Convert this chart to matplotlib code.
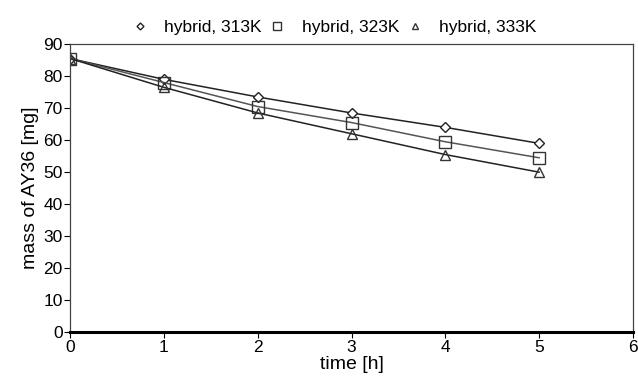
import matplotlib
matplotlib.use("Agg")
import matplotlib.pyplot as plt

plt.rcParams["font.family"] = ["Liberation Sans", "DejaVu Sans"]

# data
time_h = [0, 1, 2, 3, 4, 5]
mass_313 = [85.5, 79.0, 73.5, 68.5, 64.0, 59.0]
mass_323 = [85.5, 78.0, 70.5, 65.5, 59.5, 54.5]
mass_333 = [85.5, 76.5, 68.5, 62.0, 55.5, 50.0]
labels = ["hybrid, 313K", "hybrid, 323K", "hybrid, 333K"]

fig = plt.figure(figsize=(6.38, 3.84), dpi=100)
ax = fig.add_axes([0.11, 0.135, 0.882, 0.75])

ax.plot(time_h, mass_313, color="#222222", lw=1.1, marker="D", ms=5,
        mfc="white", mec="#222222", mew=1.0, label=labels[0])
ax.plot(time_h, mass_323, color="#555555", lw=1.1, marker="s", ms=8,
        mfc="none", mec="#333333", mew=1.0, label=labels[1])
ax.plot(time_h, mass_333, color="#222222", lw=1.1, marker="^", ms=7,
        mfc="none", mec="#333333", mew=1.0, label=labels[2])

ax.set_xlim(0, 6)
ax.set_ylim(0, 90)
ax.set_xticks(range(0, 7))
ax.set_yticks(range(0, 91, 10))
ax.tick_params(direction="out", length=4, labelsize=12.5, pad=1.5)
ax.spines["bottom"].set_linewidth(2.2)
for s in ["left", "top", "right"]:
    ax.spines[s].set_linewidth(0.9)
    ax.spines[s].set_color("#444444")

ax.set_xlabel("time [h]", fontsize=14, labelpad=1)
ax.set_ylabel("mass of AY36 [mg]", fontsize=14, labelpad=3)

leg = ax.legend(loc="lower center", bbox_to_anchor=(0.47, 0.99), ncol=3,
                frameon=False, fontsize=12.5, handlelength=0.8,
                handletextpad=1.0, columnspacing=0.5, markerscale=0.7,
                borderaxespad=0.3)
for h in leg.legend_handles:
    h.set_linestyle("none")

fig.savefig("out.png", dpi=100)
